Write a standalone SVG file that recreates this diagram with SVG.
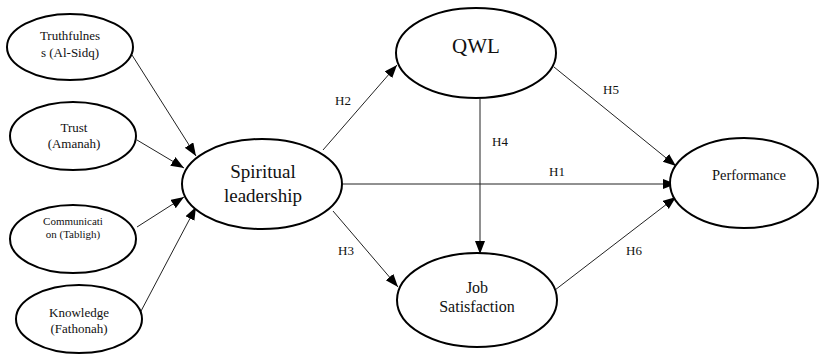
<svg xmlns="http://www.w3.org/2000/svg" width="822" height="357" viewBox="0 0 822 357">
<style>
.n{fill:#fff;stroke:#000;stroke-width:2}
.c{stroke:#222;stroke-width:1;fill:none;marker-end:url(#ah)}
text{font-family:"Liberation Serif","Times New Roman",serif;fill:#111;text-anchor:middle}
.s11{font-size:11px}.s13{font-size:13px}
.lbl{font-size:13px;text-anchor:start}
</style>
<defs>
<marker id="ah" markerUnits="userSpaceOnUse" markerWidth="14" markerHeight="12" refX="13" refY="5" orient="auto">
<path d="M0,0 L13,5 L0,10 z" fill="#000"/>
</marker>
</defs>
<rect width="822" height="357" fill="#fff"/>
<g id="connectors">
<line class="c" x1="132" y1="55" x2="196" y2="156"/>
<line class="c" x1="137" y1="140" x2="184" y2="168"/>
<line class="c" x1="137" y1="227" x2="184" y2="197"/>
<line class="c" x1="140" y1="313" x2="196" y2="207"/>
<line class="c" x1="323" y1="150" x2="397" y2="65"/>
<line class="c" x1="343" y1="184" x2="676" y2="184"/>
<line class="c" x1="333" y1="211" x2="398" y2="287"/>
<line class="c" x1="554" y1="67" x2="676" y2="166"/>
<line class="c" x1="480" y1="99" x2="480" y2="254"/>
<line class="c" x1="555" y1="290" x2="676" y2="197"/>
<text class="lbl" x="335" y="105">H2</text>
<text class="lbl" x="549" y="176">H1</text>
<text class="lbl" x="492" y="146">H4</text>
<text class="lbl" x="603" y="94">H5</text>
<text class="lbl" x="338" y="255">H3</text>
<text class="lbl" x="626" y="255">H6</text>
</g>
<g id="truthfulness">
<ellipse class="n" cx="70" cy="47" rx="63" ry="33"/>
<text class="s13" x="70" y="40">Truthfulnes</text>
<text class="s13" x="70" y="57">s (Al-Sidq)</text>
</g>
<g id="trust">
<ellipse class="n" cx="73" cy="136" rx="63" ry="34"/>
<text class="s13" x="74" y="132">Trust</text>
<text class="s13" x="74" y="148">(Amanah)</text>
</g>
<g id="communication">
<ellipse class="n" cx="73" cy="239" rx="63" ry="34"/>
<text class="s11" x="73" y="225">Communicati</text>
<text class="s11" x="73" y="238">on (Tabligh)</text>
</g>
<g id="knowledge">
<ellipse class="n" cx="79" cy="319" rx="63" ry="34"/>
<text class="s13" x="79" y="317">Knowledge</text>
<text class="s13" x="79" y="333">(Fathonah)</text>
</g>
<g id="spiritual">
<ellipse class="n" cx="262" cy="184" rx="80" ry="45"/>
<text x="263" y="178" font-size="19">Spiritual</text>
<text x="263" y="202" font-size="19">leadership</text>
</g>
<g id="qwl">
<ellipse class="n" cx="476" cy="53" rx="80" ry="45"/>
<text x="476" y="53" font-size="21">QWL</text>
</g>
<g id="job">
<ellipse class="n" cx="477" cy="300" rx="80" ry="47"/>
<text x="477" y="293" font-size="16">Job</text>
<text x="477" y="312" font-size="16">Satisfaction</text>
</g>
<g id="performance">
<ellipse class="n" cx="744" cy="183" rx="74" ry="45"/>
<text x="749" y="180" font-size="14.5">Performance</text>
</g>
</svg>
